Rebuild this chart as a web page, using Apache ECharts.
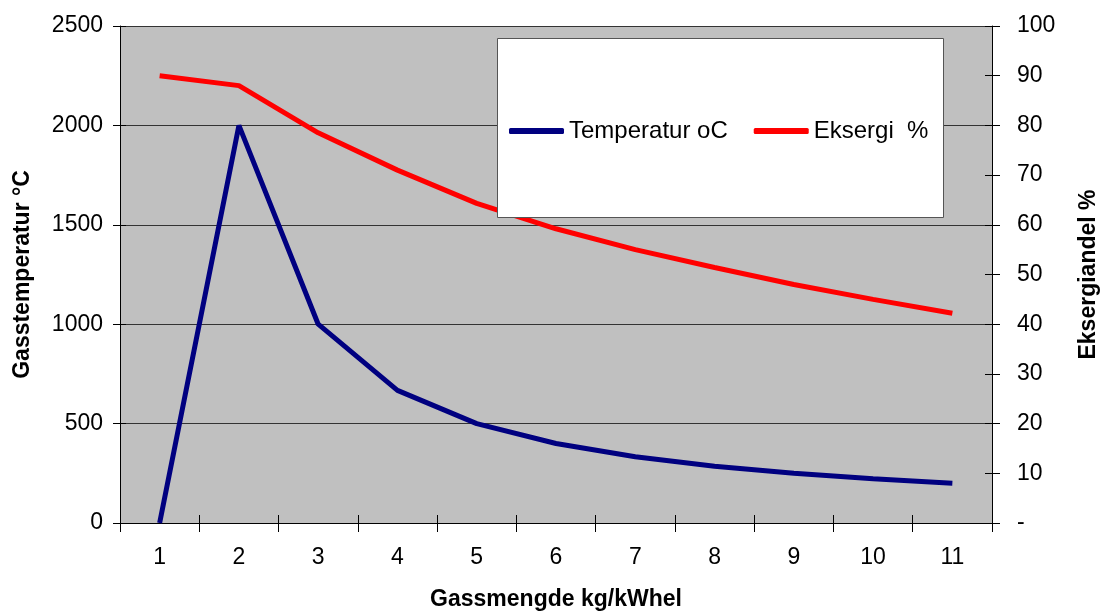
<!DOCTYPE html>
<html>
<head>
<meta charset="utf-8">
<script src="https://cdn.jsdelivr.net/npm/echarts@6/dist/echarts.min.js"></script>
<style>
  html, body { margin: 0; padding: 0; background: #fff; }
  #chart { width: 1101px; height: 611px; }
</style>
</head>
<body>
<div id="chart"></div>
<script>
// Gas amount (kg/kWh el) on the category axis
const categories = ['1', '2', '3', '4', '5', '6', '7', '8', '9', '10', '11'];
// Gas temperature, °C (left axis)
const temperature = [0, 2000, 1000, 667, 500, 400, 333, 286, 250, 222, 200];
// Exergy share, % (right axis)
const exergy = [90, 88, 78.5, 71, 64.3, 59.2, 55, 51.4, 48, 45, 42.2];

const font = 'Liberation Sans, Arial, sans-serif';
const chart = echarts.init(document.getElementById('chart'));

chart.setOption({
  animation: false,
  backgroundColor: '#ffffff',
  textStyle: { fontFamily: font },
  grid: {
    left: 120, right: 109, top: 26, bottom: 88,
    containLabel: false, outerBoundsMode: 'none',
    show: true, backgroundColor: '#c0c0c0', borderWidth: 0
  },
  graphic: [{
    type: 'rect',
    shape: { x: 497.5, y: 38.5, width: 446, height: 179 },
    style: { fill: '#ffffff', stroke: '#555555', lineWidth: 1 },
    z: 50
  }],
  legend: {
    left: 504, top: 114,
    itemWidth: 55, itemHeight: 6, itemGap: 26,
    icon: 'roundRect',
    textStyle: { fontSize: 24, color: '#000', fontFamily: font },
    data: ['Temperatur oC', 'Eksergi  %'],
    z: 60
  },
  xAxis: [{
    type: 'category',
    data: categories,
    boundaryGap: true,
    name: 'Gassmengde kg/kWhel',
    nameLocation: 'middle',
    nameGap: 65,
    nameTextStyle: { fontSize: 23, fontWeight: 'bold', color: '#000', fontFamily: font },
    axisLine: { lineStyle: { color: '#000', width: 1 } },
    axisTick: { show: true, length: 9, alignWithLabel: false, lineStyle: { color: '#000' } },
    axisLabel: { fontSize: 23, color: '#000', margin: 23, fontFamily: font },
    splitLine: { show: false }
  }, {
    // inner half of the crossing tick marks
    type: 'category',
    data: categories,
    position: 'bottom',
    boundaryGap: true,
    axisLine: { show: false },
    axisTick: { show: true, inside: true, length: 8, lineStyle: { color: '#000' } },
    axisLabel: { show: false },
    splitLine: { show: false }
  }],
  yAxis: [{
    type: 'value',
    min: 0, max: 2500, interval: 500,
    name: 'Gasstemperatur °C',
    nameLocation: 'middle',
    nameGap: 86,
    nameTextStyle: { fontSize: 23, fontWeight: 'bold', color: '#000', fontFamily: font },
    axisLine: { show: true, lineStyle: { color: '#000', width: 1 } },
    axisTick: { show: true, length: 7, lineStyle: { color: '#000' } },
    axisLabel: { fontSize: 23, color: '#000', margin: 17, fontFamily: font, formatter: v => String(v) },
    splitLine: { show: true, lineStyle: { color: '#333333', width: 1 } }
  }, {
    type: 'value',
    position: 'right',
    min: 0, max: 100, interval: 10,
    name: 'Eksergiandel %',
    nameLocation: 'middle',
    nameGap: 85,
    nameRotate: 90,
    nameTextStyle: { fontSize: 23, fontWeight: 'bold', color: '#000', fontFamily: font },
    axisLine: { show: true, lineStyle: { color: '#000', width: 1 } },
    axisTick: { show: true, length: 8, lineStyle: { color: '#000' } },
    axisLabel: {
      fontSize: 23, color: '#000', margin: 25, fontFamily: font,
      formatter: v => (v === 0 ? '-' : String(v))
    },
    splitLine: { show: false }
  }, {
    // inner half of the crossing tick marks, left side
    type: 'value',
    position: 'left',
    min: 0, max: 2500, interval: 500,
    axisLine: { show: false },
    axisTick: { show: true, inside: true, length: 6, lineStyle: { color: '#000' } },
    axisLabel: { show: false },
    splitLine: { show: false }
  }, {
    // inner half of the crossing tick marks, right side
    type: 'value',
    position: 'right',
    min: 0, max: 100, interval: 10,
    axisLine: { show: false },
    axisTick: { show: true, inside: true, length: 7, lineStyle: { color: '#000' } },
    axisLabel: { show: false },
    splitLine: { show: false }
  }],
  series: [{
    name: 'Temperatur oC',
    type: 'line',
    yAxisIndex: 0,
    data: temperature,
    symbol: 'none',
    lineStyle: { color: '#000080', width: 5 },
    itemStyle: { color: '#000080' },
    z: 10
  }, {
    name: 'Eksergi  %',
    type: 'line',
    yAxisIndex: 1,
    data: exergy,
    symbol: 'none',
    lineStyle: { color: '#ff0000', width: 5 },
    itemStyle: { color: '#ff0000' },
    z: 11
  }]
});
</script>
</body>
</html>
